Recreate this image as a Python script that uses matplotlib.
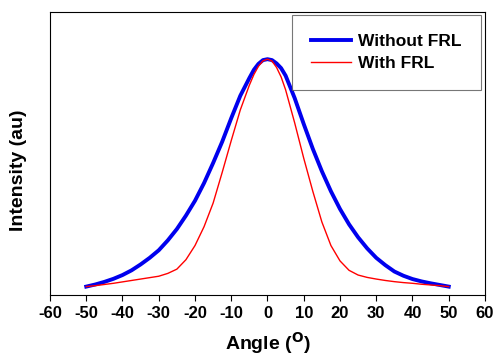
import matplotlib
matplotlib.use('Agg')
import matplotlib.pyplot as plt

# angle readings (degrees), denser near the peak
angle = [-50, -47.5, -45, -42.5, -40, -37.5, -35, -32.5, -30, -27.5,
         -25, -22.5, -20, -17.5, -15, -12.5, -10, -7.5, -5, -3.75, -2.5, -1.25,
         0,
         1.25, 2.5, 3.75, 5, 7.5, 10, 12.5, 15, 17.5, 20, 22.5, 25,
         27.5, 30, 32.5, 35, 37.5, 40, 42.5, 45, 47.5, 50]

# normalised intensity
without_frl = [0.036, 0.045, 0.056, 0.069, 0.085, 0.105, 0.130, 0.158, 0.190, 0.232,
               0.280, 0.337, 0.400, 0.475, 0.560, 0.650, 0.750, 0.845, 0.920, 0.955, 0.980, 0.996,
               1.000,
               0.996, 0.982, 0.962, 0.930, 0.835, 0.725, 0.620, 0.525, 0.440, 0.365, 0.300, 0.245,
               0.198, 0.158, 0.127, 0.100, 0.082, 0.068, 0.058, 0.050, 0.043, 0.036]
with_frl = [0.036, 0.040, 0.045, 0.050, 0.056, 0.062, 0.068, 0.074, 0.080, 0.092,
            0.110, 0.150, 0.210, 0.290, 0.390, 0.520, 0.655, 0.785, 0.890, 0.935, 0.970, 0.993,
            1.000,
            0.992, 0.965, 0.925, 0.870, 0.730, 0.580, 0.440, 0.310, 0.210, 0.145, 0.105, 0.085,
            0.075, 0.068, 0.062, 0.057, 0.053, 0.050, 0.046, 0.043, 0.040, 0.036]

xticks = list(range(-60, 61, 10))


def main():
    plt.rcParams['font.family'] = ['Liberation Sans', 'DejaVu Sans']
    fig = plt.figure(figsize=(4.96, 3.59), dpi=100)
    ax = fig.add_axes([0.1008, 0.178, 0.877, 0.7886])

    ax.plot(angle, without_frl, color='#0000ee', lw=2.8, label='Without FRL')
    ax.plot(angle, with_frl, color='#ff0000', lw=1.0, label='With FRL')

    ax.set_xlim(-60, 60)
    ax.set_ylim(0, 1.2)
    ax.set_xticks(xticks)
    ax.set_xticklabels([str(t) for t in xticks], fontsize=12, fontweight='bold')
    ax.set_yticks([])
    ax.tick_params(axis='x', direction='out', length=4, width=0.8, pad=4)

    ax.set_xlabel(r'Angle ($\mathbf{^{O}}$)', fontsize=14, fontweight='bold')
    ax.xaxis.set_label_coords(0.5, -0.125)
    ax.set_ylabel('Intensity (au)', fontsize=14, fontweight='bold')
    ax.yaxis.set_label_coords(-0.053, 0.44)

    for s in ax.spines.values():
        s.set_linewidth(0.8)

    leg = ax.legend(loc='upper right', bbox_to_anchor=(0.991, 0.989),
                    prop={'size': 12.5, 'weight': 'bold'}, fancybox=False,
                    edgecolor='#555555', borderpad=1.1, handlelength=2.3,
                    handletextpad=0.45, labelspacing=0.35, borderaxespad=0)
    leg.get_frame().set_linewidth(0.8)

    fig.savefig('out.png', dpi=100)


if __name__ == '__main__':
    main()
